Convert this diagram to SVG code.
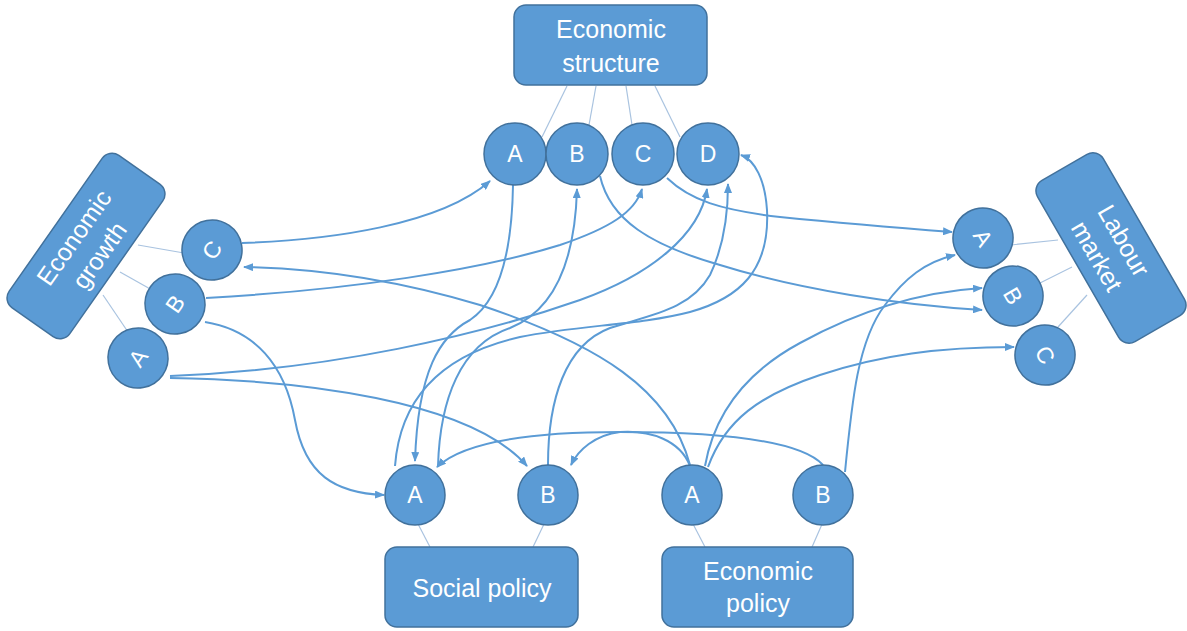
<svg xmlns="http://www.w3.org/2000/svg" width="1187" height="631" viewBox="0 0 1187 631">
<style>
.box{fill:#5b9bd5;stroke:#41719c;stroke-width:1.5}
.nd{fill:#5b9bd5;stroke:#41719c;stroke-width:1.5}
.t{fill:#ffffff;font-family:"Liberation Sans",Arial,sans-serif;font-size:25px;text-anchor:middle}
.lt{fill:#ffffff;font-family:"Liberation Sans",Arial,sans-serif;font-size:23px;text-anchor:middle}
.thin{stroke:#a9c3e0;stroke-width:1.2;fill:none}
.c{stroke:#5b9bd5;stroke-width:2;fill:none;marker-end:url(#ah)}
</style>
<defs>
<marker id="ah" viewBox="0 0 10 8" refX="9" refY="4" markerWidth="10" markerHeight="8" markerUnits="userSpaceOnUse" orient="auto">
<path d="M0,0 L10,4 L0,8 z" fill="#5b9bd5"/>
</marker>
</defs>
<rect width="1187" height="631" fill="#ffffff"/>
<g id="links">
<line class="thin" x1="567" y1="86" x2="542" y2="137"/>
<line class="thin" x1="596" y1="86" x2="589" y2="125"/>
<line class="thin" x1="626" y1="86" x2="632" y2="125"/>
<line class="thin" x1="655" y1="86" x2="680" y2="137"/>
<line class="thin" x1="138" y1="245" x2="184" y2="253"/>
<line class="thin" x1="120" y1="272" x2="152" y2="290"/>
<line class="thin" x1="103" y1="295" x2="128" y2="332"/>
<line class="thin" x1="1058" y1="240" x2="1011" y2="245"/>
<line class="thin" x1="1072" y1="267" x2="1040" y2="283"/>
<line class="thin" x1="1087" y1="295" x2="1058" y2="327"/>
<line class="thin" x1="417" y1="522" x2="430" y2="547"/>
<line class="thin" x1="545" y1="522" x2="533" y2="547"/>
<line class="thin" x1="692" y1="522" x2="705" y2="547"/>
<line class="thin" x1="823" y1="522" x2="812" y2="547"/>
</g>
<g id="connectors">
<path class="c" d="M242,243 C330,240 440,225 490,181"/>
<path class="c" d="M206,298 C350,290 480,270 560,245 C610,228 635,212 642,189"/>
<path class="c" d="M205,322 C255,330 285,365 295,420 C305,475 335,493 384,495"/>
<path class="c" d="M170,376 C330,370 480,335 580,300 C650,275 700,235 707,189"/>
<path class="c" d="M170,378 C300,380 470,400 527,466"/>
<path class="c" d="M513,185 C512,250 500,300 470,320 C440,336 418,370 415,461"/>
<path class="c" d="M600,176 C610,220 650,245 720,265 C800,290 900,305 982,310"/>
<path class="c" d="M667,178 C690,200 720,210 780,217 C850,224 900,228 952,232"/>
<path class="c" d="M438,466 C440,400 460,345 510,328 C555,310 575,260 577,189"/>
<path class="c" d="M395,466 C400,400 440,355 520,337 C580,325 640,325 690,312 C740,298 770,270 767,210 C765,180 755,160 741,155"/>
<path class="c" d="M548,465 C548,400 565,345 610,328 C650,315 690,310 710,275 C722,250 728,220 728,184"/>
<path class="c" d="M690,465 C670,390 600,345 480,305 C380,275 300,268 244,267"/>
<path class="c" d="M690,466 C680,440 650,430 620,432 C595,435 578,450 571,465"/>
<path class="c" d="M705,466 C715,410 750,370 800,343 C860,310 920,292 982,288"/>
<path class="c" d="M708,467 C725,420 760,395 820,375 C880,355 940,347 1014,347"/>
<path class="c" d="M823,465 C800,440 720,432 620,432 C520,432 460,445 437,467"/>
<path class="c" d="M845,472 C852,400 858,340 885,305 C905,278 925,262 955,255"/>
</g>
<g id="economic-structure">
<rect class="box" x="514" y="5" width="193" height="80" rx="12"/>
<text class="t" x="611" y="38">Economic</text>
<text class="t" x="611" y="72">structure</text>
</g>
<g id="es-a"><circle class="nd" cx="515" cy="154" r="31"/><text class="lt" x="515" y="162">A</text></g>
<g id="es-b"><circle class="nd" cx="577" cy="154" r="31"/><text class="lt" x="577" y="162">B</text></g>
<g id="es-c"><circle class="nd" cx="643" cy="154" r="31"/><text class="lt" x="643" y="162">C</text></g>
<g id="es-d"><circle class="nd" cx="708" cy="154" r="31"/><text class="lt" x="708" y="162">D</text></g>
<g id="economic-growth" transform="translate(86,246) rotate(-55)">
<rect class="box" x="-93" y="-37" width="186" height="74" rx="12"/>
<text class="t" x="0" y="-6">Economic</text>
<text class="t" x="0" y="25">growth</text>
</g>
<g id="eg-c" transform="translate(212,250) rotate(-55)"><circle class="nd" r="30"/><text class="lt" y="8">C</text></g>
<g id="eg-b" transform="translate(175,304) rotate(-55)"><circle class="nd" r="30"/><text class="lt" y="8">B</text></g>
<g id="eg-a" transform="translate(138,358) rotate(-55)"><circle class="nd" r="30"/><text class="lt" y="8">A</text></g>
<g id="labour-market" transform="translate(1111,248) rotate(60)">
<rect class="box" x="-93" y="-38" width="186" height="76" rx="12"/>
<text class="t" x="0" y="-6">Labour</text>
<text class="t" x="0" y="25">market</text>
</g>
<g id="lm-a" transform="translate(983,238) rotate(60)"><circle class="nd" r="30"/><text class="lt" y="8">A</text></g>
<g id="lm-b" transform="translate(1013,296) rotate(60)"><circle class="nd" r="30"/><text class="lt" y="8">B</text></g>
<g id="lm-c" transform="translate(1045,355) rotate(60)"><circle class="nd" r="30"/><text class="lt" y="8">C</text></g>
<g id="social-policy">
<rect class="box" x="385" y="547" width="193" height="80" rx="12"/>
<text class="t" x="482" y="597">Social policy</text>
</g>
<g id="sp-a"><circle class="nd" cx="415" cy="495" r="30"/><text class="lt" x="415" y="503">A</text></g>
<g id="sp-b"><circle class="nd" cx="548" cy="495" r="30"/><text class="lt" x="548" y="503">B</text></g>
<g id="economic-policy">
<rect class="box" x="662" y="547" width="191" height="80" rx="12"/>
<text class="t" x="758" y="580">Economic</text>
<text class="t" x="758" y="612">policy</text>
</g>
<g id="ep-a"><circle class="nd" cx="692" cy="495" r="30"/><text class="lt" x="692" y="503">A</text></g>
<g id="ep-b"><circle class="nd" cx="823" cy="495" r="30"/><text class="lt" x="823" y="503">B</text></g>
</svg>
